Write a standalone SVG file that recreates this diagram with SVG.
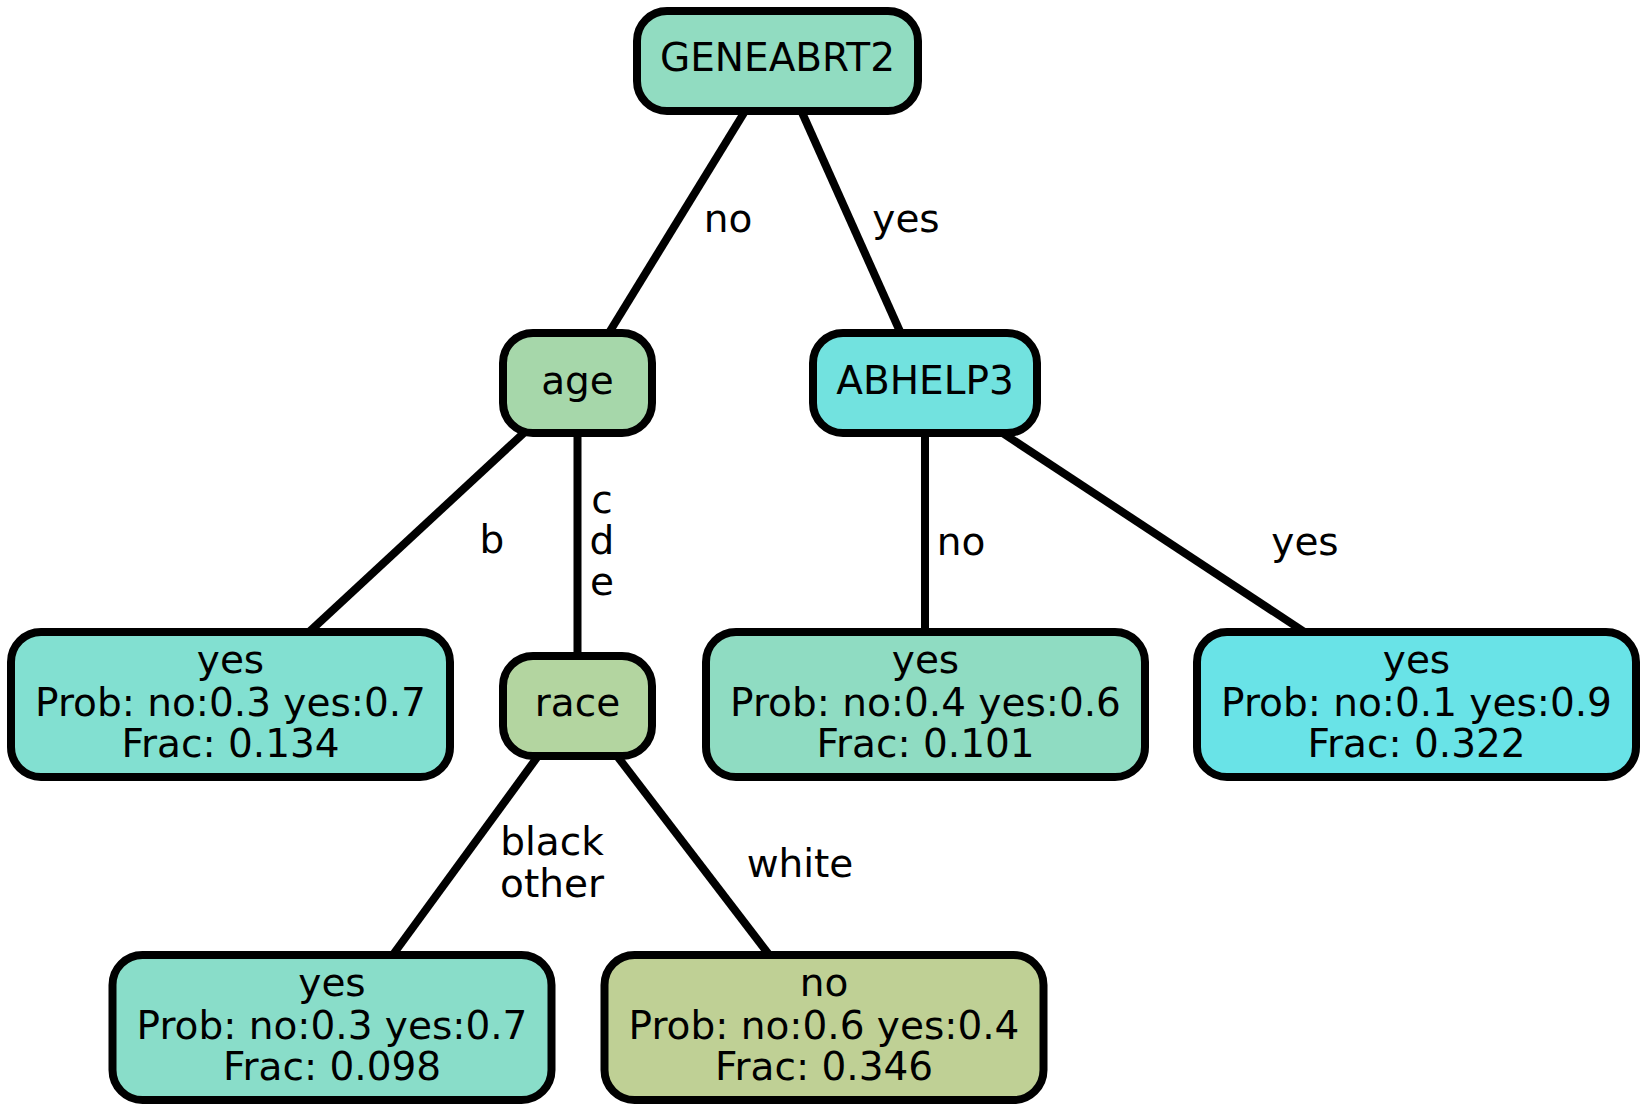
<svg xmlns="http://www.w3.org/2000/svg" width="1647" height="1114" viewBox="0 0 1647 1114">
<style>
.n rect{stroke:#000;stroke-width:8}
.n text,.l{font-family:"DejaVu Sans",sans-serif;font-size:39px;fill:#000;text-anchor:middle}
.e line{stroke:#000;stroke-width:8}
</style>
<rect width="1647" height="1114" fill="#fff"/>
<g id="edges" class="e">
<line x1="747" y1="108" x2="607" y2="336"/>
<line x1="800" y1="108" x2="902" y2="336"/>
<line x1="527" y1="430" x2="308" y2="633"/>
<line x1="577.5" y1="430" x2="577.5" y2="658"/>
<line x1="925" y1="430" x2="925" y2="633"/>
<line x1="998" y1="430" x2="1306" y2="633"/>
<line x1="541" y1="752" x2="392" y2="956"/>
<line x1="614" y1="752" x2="770" y2="956"/>
<text class="l" x="728" y="232">no</text>
<text class="l" x="906" y="232">yes</text>
<text class="l" x="492" y="553">b</text>
<text class="l" x="602" y="513">c</text>
<text class="l" x="602" y="554">d</text>
<text class="l" x="602" y="595">e</text>
<text class="l" x="961" y="555">no</text>
<text class="l" x="1305" y="555">yes</text>
<text class="l" x="552" y="855">black</text>
<text class="l" x="552" y="897">other</text>
<text class="l" x="800" y="877">white</text>
</g>
<g id="node-geneabrt2" class="n"><rect x="637" y="11" width="281" height="100" rx="30" fill="#91dcc1"/><text x="777.5" y="71">GENEABRT2</text></g>
<g id="node-age" class="n"><rect x="503" y="333" width="149" height="100" rx="30" fill="#a6d7aa"/><text x="577.5" y="394">age</text></g>
<g id="node-abhelp3" class="n"><rect x="813" y="333" width="224" height="100" rx="30" fill="#72e2df"/><text x="925" y="394">ABHELP3</text></g>
<g id="node-race" class="n"><rect x="503" y="656" width="149" height="100" rx="30" fill="#b3d5a0"/><text x="577.5" y="716">race</text></g>
<g id="leaf-1" class="n"><rect x="11" y="632" width="439" height="145" rx="30" fill="#82e0d1"/><text x="230.5" y="673">yes</text><text x="230.5" y="716">Prob: no:0.3 yes:0.7</text><text x="230.5" y="757">Frac: 0.134</text></g>
<g id="leaf-2" class="n"><rect x="706" y="632" width="439" height="145" rx="30" fill="#8fdcc2"/><text x="925.5" y="673">yes</text><text x="925.5" y="716">Prob: no:0.4 yes:0.6</text><text x="925.5" y="757">Frac: 0.101</text></g>
<g id="leaf-3" class="n"><rect x="1197" y="632" width="439" height="145" rx="30" fill="#69e3e7"/><text x="1416.5" y="673">yes</text><text x="1416.5" y="716">Prob: no:0.1 yes:0.9</text><text x="1416.5" y="757">Frac: 0.322</text></g>
<g id="leaf-4" class="n"><rect x="112.5" y="955" width="439" height="145" rx="30" fill="#89ddc9"/><text x="332" y="996">yes</text><text x="332" y="1039">Prob: no:0.3 yes:0.7</text><text x="332" y="1080">Frac: 0.098</text></g>
<g id="leaf-5" class="n"><rect x="604.5" y="955" width="439" height="145" rx="30" fill="#bfd095"/><text x="824" y="996">no</text><text x="824" y="1039">Prob: no:0.6 yes:0.4</text><text x="824" y="1080">Frac: 0.346</text></g>
</svg>
